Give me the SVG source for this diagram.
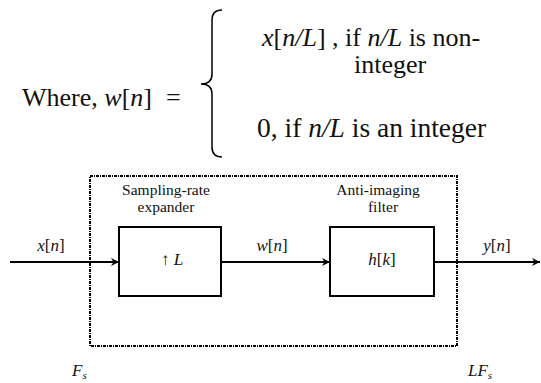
<svg xmlns="http://www.w3.org/2000/svg" width="541" height="383" viewBox="0 0 541 383">
<style>
.box{fill:#fff;stroke:#000;stroke-width:2}
.ln{stroke:#000;stroke-width:2;fill:none}
</style>
<defs>
<marker id="ah" viewBox="0 0 10 10" refX="10" refY="5" markerWidth="8" markerHeight="8" markerUnits="userSpaceOnUse" orient="auto">
<path d="M0,0 L10,5 L0,10 L3,5 Z" fill="#000"/>
</marker>
</defs>
<rect width="541" height="383" fill="#fff"/>
<g fill="#111">
<g id="equation">
<text font-family="Liberation Serif" font-size="26" x="22" y="106">Where, <tspan font-style="italic">w</tspan>[<tspan font-style="italic">n</tspan>]<tspan x="166">=</tspan></text>
<path d="M222,10 Q212,10 212,20 L212,74 Q212,84 201,84 Q212,84 212,94 L212,147 Q212,157 222,157" fill="none" stroke="#000" stroke-width="1.5"/>
<text font-family="Liberation Serif" font-size="26" x="262" y="46"><tspan font-style="italic">x</tspan>[<tspan font-style="italic">n/L</tspan>] , if <tspan font-style="italic">n/L</tspan> is non-</text>
<text font-family="Liberation Serif" font-size="26" x="354" y="73">integer</text>
<text font-family="Liberation Serif" font-size="27.5" x="257" y="137">0, if <tspan font-style="italic">n/L</tspan> is an integer</text>
</g>
<g id="system">
<rect x="90" y="176" width="367" height="170" fill="none" stroke="#000" stroke-width="2" stroke-dasharray="3,1,1,1"/>
</g>
<g id="expander">
<rect class="box" x="119" y="227" width="102" height="69"/>
<text font-family="Liberation Serif" font-size="15.5" x="166" y="195" text-anchor="middle">Sampling-rate</text>
<text font-family="Liberation Serif" font-size="15.5" x="166" y="212" text-anchor="middle">expander</text>
<text font-family="Liberation Serif" font-size="17" x="172" y="265" text-anchor="middle">↑ <tspan font-style="italic">L</tspan></text>
</g>
<g id="filter">
<rect class="box" x="330" y="227" width="104" height="69"/>
<text font-family="Liberation Serif" font-size="15.5" x="378" y="195" text-anchor="middle">Anti-imaging</text>
<text font-family="Liberation Serif" font-size="15.5" x="383" y="212" text-anchor="middle">filter</text>
<text font-family="Liberation Serif" font-size="17" x="382" y="265" text-anchor="middle"><tspan font-style="italic">h</tspan>[<tspan font-style="italic">k</tspan>]</text>
</g>
<g id="connectors">
<line class="ln" x1="10" y1="262" x2="119" y2="262" marker-end="url(#ah)"/>
<line class="ln" x1="221" y1="262" x2="330" y2="262" marker-end="url(#ah)"/>
<line class="ln" x1="434" y1="262" x2="540" y2="262" marker-end="url(#ah)"/>
</g>
<g id="labels">
<text font-family="Liberation Serif" font-size="17" x="51" y="251" text-anchor="middle"><tspan font-style="italic">x</tspan>[<tspan font-style="italic">n</tspan>]</text>
<text font-family="Liberation Serif" font-size="17" x="272" y="251" text-anchor="middle"><tspan font-style="italic">w</tspan>[<tspan font-style="italic">n</tspan>]</text>
<text font-family="Liberation Serif" font-size="17" x="497" y="251" text-anchor="middle"><tspan font-style="italic">y</tspan>[<tspan font-style="italic">n</tspan>]</text>
<text font-family="Liberation Serif" font-size="17" x="72" y="376" font-style="italic">F<tspan font-size="11" dy="3">s</tspan></text>
<text font-family="Liberation Serif" font-size="17" x="468" y="376" font-style="italic">LF<tspan font-size="11" dy="3">s</tspan></text>
</g>
</g>
</svg>
